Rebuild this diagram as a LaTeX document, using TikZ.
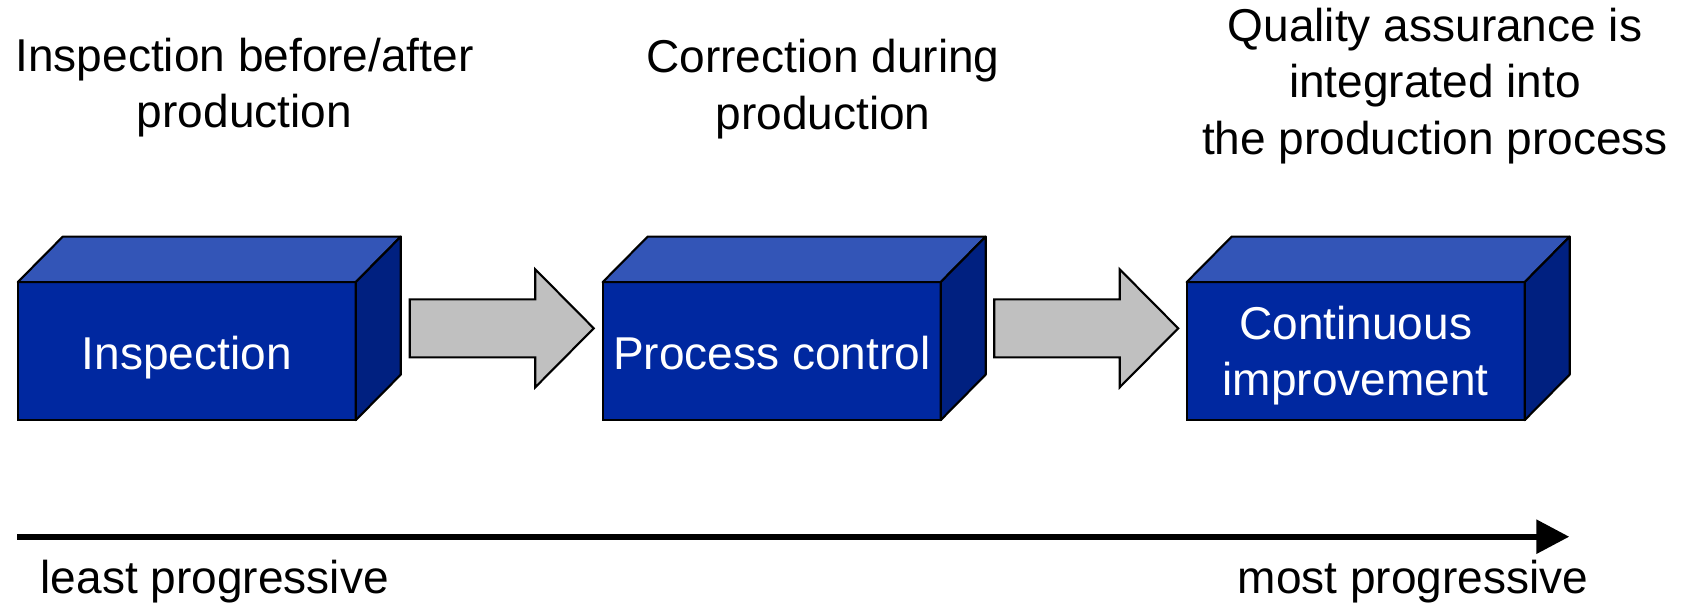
\documentclass[tikz,border=0pt]{standalone}
\usepackage{fontspec}
\setmainfont{Liberation Sans}
\usetikzlibrary{calc,arrows.meta}

\definecolor{boxfront}{RGB}{0,40,160}
\definecolor{boxtop}{RGB}{51,85,183}
\definecolor{boxside}{RGB}{0,32,128}
\definecolor{arrowgray}{RGB}{192,192,192}

\tikzset{
    stage/.style = {draw, line width=0.6pt, fill=boxfront, text=white, align=center,
        minimum width=33.8mm, minimum height=13.8mm, inner sep=0pt, outer sep=0pt, text depth=0pt},
    oneline/.style = {text height=10.2pt},
    topface/.style = {draw, line width=0.6pt, fill=boxtop, line join=round},
    sideface/.style = {draw, line width=0.6pt, fill=boxside, line join=round},
    blockarrow/.style = {draw, line width=0.6pt, fill=arrowgray},
    caption/.style = {align=center, anchor=base, inner sep=0pt},
    progress/.style = {line width=0.6mm, -{Triangle[length=3.3mm, width=3.3mm]}}
}

\begin{document}
\begin{tikzpicture}[x=0.1mm, y=-0.1mm, font=\fontsize{13.1}{16}\selectfont]
        \useasboundingbox (0,0) rectangle (1686,602);
        % captions (base = last line)
        \node [caption] (capInsp) at (244.5,127.7) {Inspection before/after\\production};
        \node [caption] (capProc) at (823,129) {Correction during\\production};
        \node [caption] (capCont) at (1435,154) {Quality assurance is\\integrated into\\the production process};
        % boxes
        \node [stage, oneline] (insp) at (186.8,351.1) {Inspection};
        \node [stage, oneline] (proc) at (771.7,351.1) {Process control};
        \node [stage, text depth=-1.8pt] (cont) at (1355.7,351.1) {Continuous\\improvement};
        \draw [topface] (insp.north west) -- ++(45,-45.5) -- ($(insp.north east)+(45,-45.5)$) -- (insp.north east) -- cycle;
        \draw [sideface] (insp.north east) -- ++(45,-45.5) -- ($(insp.south east)+(45,-45.5)$) -- (insp.south east) -- cycle;
        \draw [topface] (proc.north west) -- ++(45,-45.5) -- ($(proc.north east)+(45,-45.5)$) -- (proc.north east) -- cycle;
        \draw [sideface] (proc.north east) -- ++(45,-45.5) -- ($(proc.south east)+(45,-45.5)$) -- (proc.south east) -- cycle;
        \draw [topface] (cont.north west) -- ++(45,-45.5) -- ($(cont.north east)+(45,-45.5)$) -- (cont.north east) -- cycle;
        \draw [sideface] (cont.north east) -- ++(45,-45.5) -- ($(cont.south east)+(45,-45.5)$) -- (cont.south east) -- cycle;
        % arrows between boxes
        \coordinate (arr1) at ($(insp.east)!0.5!(proc.west)+(22.5,-22.8)$);
        \coordinate (arr2) at ($(proc.east)!0.5!(cont.west)+(22.5,-22.8)$);
        \draw [blockarrow] ($(arr1)+(-92,-29)$) -- ++(125.5,0) -- ++(0,-30) -- ($(arr1)+(92,0)$)
            -- ++(-58.5,59) -- ++(0,-30) -- ++(-125.5,0) -- cycle;
        \draw [blockarrow] ($(arr2)+(-92,-29)$) -- ++(125.5,0) -- ++(0,-30) -- ($(arr2)+(92,0)$)
            -- ++(-58.5,59) -- ++(0,-30) -- ++(-125.5,0) -- cycle;
        % progress axis
        \coordinate (low) at (17.3,536.7);
        \coordinate (high) at (1569.3,536.7);
        \draw [progress] (low) -- (high);
        \node [anchor=base west, inner sep=0pt] (least) at (40,593) {least progressive};
        \node [anchor=base east, inner sep=0pt] (most) at (1589,593) {most progressive};
    \end{tikzpicture}
\end{document}
